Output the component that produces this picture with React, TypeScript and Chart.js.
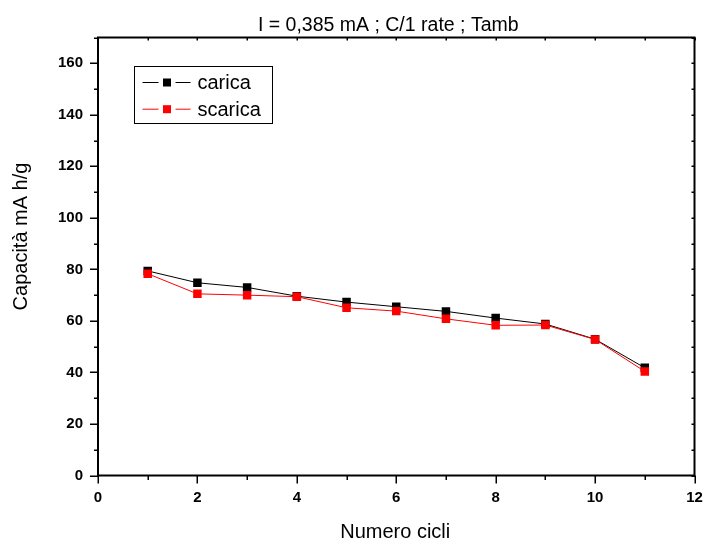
import React, { useEffect, useRef } from 'react';
import { Chart, registerables } from 'chart.js';

Chart.register(...registerables);

const cycles = [1, 2, 3, 4, 5, 6, 7, 8, 9, 10, 11];
const caricaValues = [79.4, 74.8, 73.0, 69.6, 67.3, 65.5, 63.7, 61.1, 58.8, 52.9, 41.8];
const scaricaValues = [78.3, 70.5, 70.0, 69.4, 65.1, 63.8, 60.8, 58.3, 58.4, 52.8, 40.4];
const xTickValues = [0, 2, 4, 6, 8, 10, 12];
const yTickValues = [0, 20, 40, 60, 80, 100, 120, 140, 160];
const seriesNames = ['carica', 'scarica'];
const seriesColors = ['#000000', '#ff0000'];
const chartTitle = 'I = 0,385 mA ; C/1 rate ; Tamb';
const xAxisTitle = 'Numero cicli';
const yAxisTitle = 'Capacità mA h/g';

const FONT = '"Liberation Sans", Arial, Helvetica, sans-serif';

const decorPlugin = {
  id: 'decor',
  afterDraw(chart: any) {
    const ctx = chart.ctx as CanvasRenderingContext2D;
    const { left, right, top, bottom } = chart.chartArea;
    const xs = chart.scales.x;
    const ys = chart.scales.y;
    ctx.save();
    ctx.strokeStyle = '#000';
    ctx.fillStyle = '#000';

    // ticks
    ctx.lineWidth = 1.5;
    ctx.beginPath();
    for (let v = 0; v <= 12; v += 1) {
      const px = Math.round(xs.getPixelForValue(v)) + 0.25;
      const major = v % 2 === 0;
      ctx.moveTo(px, bottom);
      ctx.lineTo(px, bottom + (major ? 8 : 4.5));
      ctx.moveTo(px, top);
      ctx.lineTo(px, top + 3);
    }
    for (let v = 0; v <= 170; v += 10) {
      const py = Math.round(ys.getPixelForValue(v)) + 0.25;
      const major = v % 20 === 0;
      ctx.moveTo(left, py);
      ctx.lineTo(left - (major ? 8 : 4), py);
      ctx.moveTo(right, py);
      ctx.lineTo(right - 3, py);
    }
    ctx.stroke();

    // frame
    ctx.lineWidth = 2;
    ctx.strokeRect(left, top, right - left, bottom - top);

    // titles
    ctx.font = `19.5px ${FONT}`;
    ctx.textAlign = 'center';
    ctx.textBaseline = 'alphabetic';
    ctx.fillText(chartTitle, (left + right) / 2 - 8, 31);

    ctx.font = `20px ${FONT}`;
    ctx.fillText(xAxisTitle, (left + right) / 2 - 1, 538);

    ctx.save();
    ctx.translate(27.3, (top + bottom) / 2 - 20);
    ctx.rotate(-Math.PI / 2);
    ctx.fillText(yAxisTitle, 0, 0);
    ctx.restore();

    // legend
    const bx = left + 36.5;
    const by = top + 29;
    ctx.lineWidth = 1;
    ctx.strokeRect(bx, by, 138, 57);
    ctx.font = `20px ${FONT}`;
    ctx.textAlign = 'left';
    for (let i = 0; i < seriesNames.length; i++) {
      const cy = by + 16 + i * 26.7;
      ctx.strokeStyle = seriesColors[i];
      ctx.fillStyle = seriesColors[i];
      ctx.beginPath();
      ctx.moveTo(bx + 8, cy);
      ctx.lineTo(bx + 24, cy);
      ctx.moveTo(bx + 41, cy);
      ctx.lineTo(bx + 56, cy);
      ctx.stroke();
      ctx.fillRect(bx + 28.5, cy - 4, 8, 8);
      ctx.fillStyle = '#000';
      ctx.fillText(seriesNames[i], bx + 63, cy + 6.5);
    }
    ctx.restore();
  },
};

export default function App() {
  const canvasRef = useRef<HTMLCanvasElement | null>(null);

  useEffect(() => {
    const canvas = canvasRef.current;
    if (!canvas) return;
    const tickFont = { family: FONT, size: 15, weight: 'bold' as const };
    const chart = new Chart(canvas, {
      type: 'line',
      data: {
        datasets: [
          {
            label: seriesNames[0],
            data: cycles.map((c, i) => ({ x: c, y: caricaValues[i] })),
            borderColor: seriesColors[0],
            backgroundColor: seriesColors[0],
            borderWidth: 1,
            pointStyle: 'rect',
            pointRadius: 6,
            pointBorderWidth: 0,
            pointBackgroundColor: seriesColors[0],
            order: 1,
          },
          {
            label: seriesNames[1],
            data: cycles.map((c, i) => ({ x: c, y: scaricaValues[i] })),
            borderColor: seriesColors[1],
            backgroundColor: seriesColors[1],
            borderWidth: 1,
            pointStyle: 'rect',
            pointRadius: 6,
            pointBorderWidth: 0,
            pointBackgroundColor: seriesColors[1],
            order: 0,
          },
        ],
      },
      options: {
        responsive: false,
        animation: false,
        layout: { padding: { top: 37.5, right: 9.5, left: 0, bottom: 0 } },
        plugins: {
          legend: { display: false },
          title: { display: false },
          tooltip: { enabled: false },
        },
        scales: {
          x: {
            type: 'linear',
            min: 0,
            max: 12,
            afterBuildTicks: (scale: any) => {
              scale.ticks = xTickValues.map((v) => ({ value: v }));
            },
            afterFit: (scale: any) => {
              scale.height = 65.5;
              scale.paddingLeft = 0;
              scale.paddingRight = 0;
            },
            grid: { display: false, drawTicks: false },
            border: { display: false },
            ticks: { font: tickFont, color: '#000', padding: 13, maxRotation: 0, autoSkip: false },
          },
          y: {
            type: 'linear',
            min: 0,
            max: 170,
            afterBuildTicks: (scale: any) => {
              scale.ticks = yTickValues.map((v) => ({ value: v }));
            },
            afterFit: (scale: any) => {
              scale.width = 98;
              scale.paddingTop = 0;
              scale.paddingBottom = 0;
            },
            grid: { display: false, drawTicks: false },
            border: { display: false },
            ticks: { font: tickFont, color: '#000', padding: 15, autoSkip: false },
          },
        },
      },
      plugins: [decorPlugin],
    });
    return () => chart.destroy();
  }, []);

  return (
    <div style={{ position: 'fixed', left: 0, top: 0, width: 704, height: 541, background: '#fff' }}>
      <canvas ref={canvasRef} width={704} height={541} style={{ display: 'block' }} />
    </div>
  );
}
